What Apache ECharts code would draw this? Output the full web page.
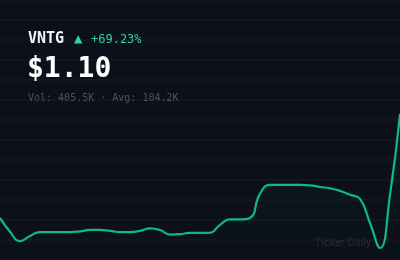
<!DOCTYPE html>
<html>
<head>
<meta charset="utf-8">
<style>
  html, body { margin: 0; padding: 0; background: #0b101b; }
  #chart { width: 400px; height: 260px; }
</style>
<script src="https://cdn.jsdelivr.net/npm/echarts@6/dist/echarts.min.js"></script>
</head>
<body>
<div id="chart"></div>
<script>
// daily closes, left to right
const days = Array.from({ length: 41 }, (_, i) => 'D' + (i + 1))
const closes = [
  0.650, 0.590, 0.550, 0.572, 0.589, 0.589, 0.589, 0.589, 0.592, 0.598,
  0.598, 0.594, 0.589, 0.589, 0.594, 0.605, 0.598, 0.578, 0.580, 0.585,
  0.585, 0.586, 0.620, 0.644, 0.644, 0.650, 0.755, 0.793, 0.793, 0.793,
  0.793, 0.791, 0.784, 0.778, 0.767, 0.750, 0.732, 0.628, 0.520, 0.750,
  1.100,
]
const ticker = 'VNTG'
const price = '$1.10'
const change = '+69.23%'
const volumeLine = 'Vol: 405.5K · Avg: 104.2K'

const green = '#10b981'
const mono = '"DejaVu Sans Mono", monospace'

const chart = echarts.init(document.getElementById('chart'))

chart.setOption({
  backgroundColor: '#0b101b',
  animation: false,
  grid: { left: 0, right: 0, top: 0, bottom: 0 },
  xAxis: {
    type: 'category',
    data: days,
    boundaryGap: false,
    show: false,
  },
  yAxis: [
    { type: 'value', min: 0.468, max: 1.593, show: false },
    {
      // only for the horizontal rules
      type: 'value',
      min: 0,
      max: 13,
      interval: 1,
      axisLine: { show: false },
      axisTick: { show: false },
      axisLabel: { show: false },
      splitLine: { show: true, lineStyle: { color: '#141924', width: 1.5 } },
    },
  ],
  series: [
    {
      type: 'line',
      data: closes,
      yAxisIndex: 0,
      smooth: 0.5,
      showSymbol: false,
      lineStyle: { color: green, width: 2.2 },
      areaStyle: {
        color: new echarts.graphic.LinearGradient(0, 0, 0, 1, [
          { offset: 0, color: 'rgba(16,185,129,0.10)' },
          { offset: 1, color: 'rgba(16,185,129,0)' },
        ]),
      },
    },
  ],
  graphic: [
    {
      type: 'text', left: 28, top: 32, z: 100,
      style: { text: ticker, fill: '#f3f4f6', font: 'bold 15px ' + mono },
    },
    {
      type: 'text', left: 74, top: 32, z: 100,
      style: { text: '▲', fill: '#34d399', font: '14px ' + mono },
    },
    {
      type: 'text', left: 91, top: 34, z: 100,
      style: { text: change, fill: '#34d399', font: '12px ' + mono },
    },
    {
      type: 'text', left: 27, top: 56, z: 100,
      style: { text: price, fill: '#ffffff', font: 'bold 28px ' + mono },
    },
    {
      type: 'text', left: 28, top: 93, z: 100,
      style: { text: volumeLine, fill: '#4b5260', font: '10px ' + mono },
    },
    {
      type: 'text', right: 29, top: 238, z: 100,
      style: { text: 'Ticker Daily', fill: '#262c38', font: '11px Roboto, sans-serif' },
    },
  ],
})
</script>
</body>
</html>
